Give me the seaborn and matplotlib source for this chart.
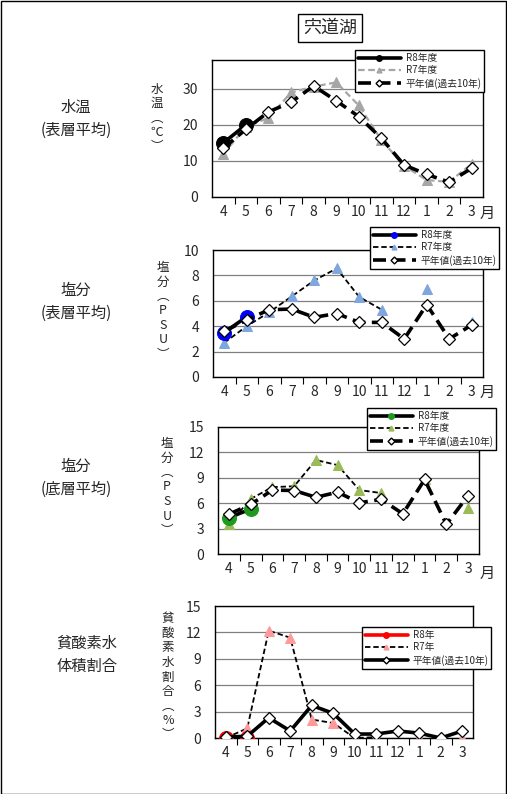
import numpy as np
import pandas as pd
import matplotlib
matplotlib.use("Agg")
import matplotlib.pyplot as plt
from matplotlib.lines import Line2D
from matplotlib.patches import Rectangle
import seaborn as sns

sns.set_theme(style="white")
plt.rcParams['font.family'] = ['Noto Sans CJK JP', 'DejaVu Sans']

months = ["4", "5", "6", "7", "8", "9", "10", "11", "12", "1", "2", "3"]

# 水温 (表層平均)
temp_r8 = [15.0, 20.0] + [np.nan] * 10
temp_r7 = [11.9, 19.5, 21.9, 29.0, 30.6, 31.8, 25.4, 15.8, 8.7, 4.7, 4.2, 9.2]
temp_avg = [13.5, 18.8, 23.6, 26.3, 30.8, 26.7, 22.3, 16.3, 8.9, 6.3, 4.1, 8.0]

# 塩分 (表層平均)
sal_s_r8 = [3.5, 4.75] + [np.nan] * 10
sal_s_r7 = [2.7, 4.0, 5.1, 6.35, 7.6, 8.55, 6.3, 5.3, np.nan, 6.9, np.nan, 4.35]
sal_s_avg = [3.6, 4.5, 5.3, 5.35, 4.7, 5.0, 4.3, 4.3, 3.0, 5.7, 3.0, 4.1]

# 塩分 (底層平均)
sal_b_r8 = [4.3, 5.3] + [np.nan] * 10
sal_b_r7 = [3.5, 6.5, 7.9, 8.0, 11.1, 10.5, 7.55, 7.2, np.nan, 8.9, np.nan, 5.4]
sal_b_avg = [4.7, 5.85, 7.55, 7.5, 6.7, 7.3, 6.05, 6.45, 4.75, 8.8, 3.5, 6.9]

# 貧酸素水体積割合 (%)
anox_r8 = [0.0, 0.0] + [np.nan] * 10
anox_r7 = [0.0, 1.1, 12.2, 11.4, 2.1, 1.7, 0.0, 0.1, np.nan, 0.0, np.nan, 0.0]
anox_avg = [0.1, 0.2, 2.3, 0.8, 3.7, 2.8, 0.45, 0.45, 0.8, 0.55, 0.0, 0.8]

W, H = 507, 794
fig = plt.figure(figsize=(W / 100, H / 100), dpi=100)
fig.patch.set_facecolor("white")


def add_ax(l, t, r, b):
    return fig.add_axes([l / W, 1 - b / H, (r - l) / W, (b - t) / H])


def draw(ax, vals, **kw):
    df = pd.DataFrame({"x": np.arange(12), "y": vals})
    df["seg"] = df["y"].isna().cumsum()
    df = df.dropna()
    sns.lineplot(data=df, x="x", y="y", units="seg", estimator=None,
                 legend=False, ax=ax, **kw)


def style_ax(ax, ymax, yticks):
    ax.set_xlim(-0.5, 11.5)
    ax.set_ylim(0, ymax)
    ax.set_yticks(yticks)
    ax.set_yticklabels([str(v) for v in yticks], fontsize=10)
    ax.set_xticks(range(12))
    ax.set_xticklabels(months, fontsize=10)
    ax.set_xticks(np.arange(0.5, 11.5, 1), minor=True)
    ax.tick_params(axis="x", which="major", length=0, pad=6)
    ax.tick_params(axis="x", which="minor", length=5, width=0.8,
                   direction="out", color="black", bottom=True)
    ax.tick_params(axis="y", length=0, pad=10)
    ax.grid(axis="y", color="#808080", lw=0.9)
    ax.grid(axis="x", visible=False)
    for s in ax.spines.values():
        s.set_color("black")
        s.set_linewidth(1.0)
    ax.set_xlabel("")
    ax.set_ylabel("")


avg_dash = (0, (3.6, 1.8))
r7_dash = (0, (3, 1.6))

panels = [
    dict(rect=(212, 60, 483, 197), ymax=38, yticks=[0, 10, 20, 30],
         r8=temp_r8, r7=temp_r7, avg=temp_avg,
         r8c="black", r8lc="black", r7c="#A6A6A6", r7lc="#A6A6A6", r7lw=1.6,
         avg_ls=avg_dash, labels=["R8年度", "R7年度", "平年値(過去10年)"],
         leg=(355, 50), ylab="水\n温\n︵\n℃\n︶", ylab_xy=(157, 118),
         title="水温\n(表層平均)", title_xy=(76, 119), month=(480, 213)),
    dict(rect=(213, 250, 483, 377), ymax=10, yticks=[0, 2, 4, 6, 8, 10],
         r8=sal_s_r8, r7=sal_s_r7, avg=sal_s_avg,
         r8c="#0000FF", r8lc="black", r7c="#7FA7DE", r7lc="black", r7lw=1.3,
         avg_ls=avg_dash, labels=["R8年度", "R7年度", "平年値(過去10年)"],
         leg=(370, 227), ylab="塩\n分\n︵\nP\nS\nU\n︶", ylab_xy=(163, 311),
         title="塩分\n(表層平均)", title_xy=(76, 302), month=(480, 392)),
    dict(rect=(218, 427, 479, 554), ymax=15, yticks=[0, 3, 6, 9, 12, 15],
         r8=sal_b_r8, r7=sal_b_r7, avg=sal_b_avg,
         r8c="#1E9A1E", r8lc="black", r7c="#9BBB59", r7lc="black", r7lw=1.3,
         avg_ls=avg_dash, labels=["R8年度", "R7年度", "平年値(過去10年)"],
         leg=(367, 408), ylab="塩\n分\n︵\nP\nS\nU\n︶", ylab_xy=(167, 487),
         title="塩分\n(底層平均)", title_xy=(76, 478), month=(480, 573)),
    dict(rect=(215, 606, 473, 738), ymax=15, yticks=[0, 3, 6, 9, 12, 15],
         r8=anox_r8, r7=anox_r7, avg=anox_avg,
         r8c="#FF0000", r8lc="#FF0000", r7c="#FF9A9A", r7lc="black", r7lw=1.3,
         avg_ls="-", labels=["R8年", "R7年", "平年値(過去10年)"],
         leg=(362, 627), ylab="貧\n酸\n素\n水\n割\n合\n︵\n%\n︶", ylab_xy=(168, 677),
         title="貧酸素水\n体積割合", title_xy=(87, 655), month=None),
]

for p in panels:
    ax = add_ax(*p["rect"])
    ax.set_facecolor("white")
    draw(ax, p["r7"], color=p["r7lc"], lw=p["r7lw"], linestyle=r7_dash,
         marker="^", markersize=7, markerfacecolor=p["r7c"],
         markeredgecolor=p["r7c"], zorder=3)
    draw(ax, p["r8"], color=p["r8lc"], lw=2.6, linestyle="-",
         marker="o", markersize=10, markerfacecolor=p["r8c"],
         markeredgecolor=p["r8c"], zorder=4)
    draw(ax, p["avg"], color="black", lw=2.6, linestyle=p["avg_ls"],
         marker="D", markersize=6, markerfacecolor="white",
         markeredgecolor="black", markeredgewidth=0.9, zorder=5)
    style_ax(ax, p["ymax"], p["yticks"])

    handles = [
        Line2D([], [], color=p["r8lc"], lw=2.6, marker="o", markersize=4,
               markerfacecolor=p["r8c"], markeredgecolor=p["r8c"]),
        Line2D([], [], color=p["r7lc"], lw=p["r7lw"], linestyle=r7_dash,
               marker="^", markersize=3.5, markerfacecolor=p["r7c"],
               markeredgecolor=p["r7c"]),
        Line2D([], [], color="black", lw=2.6, linestyle=p["avg_ls"],
               marker="D", markersize=3.5, markerfacecolor="white",
               markeredgecolor="black"),
    ]
    lx, ly = p["leg"]
    leg = fig.legend(handles, p["labels"], loc="upper left",
                     bbox_to_anchor=(lx / W, 1 - ly / H), borderaxespad=0,
                     fontsize=7, frameon=True, fancybox=False,
                     framealpha=1, edgecolor="black", handlelength=4.4,
                     handletextpad=0.5, labelspacing=0.25, borderpad=0.3)
    leg.get_frame().set_linewidth(1.0)
    leg.set_zorder(10)

    fig.text(p["ylab_xy"][0] / W, 1 - p["ylab_xy"][1] / H, p["ylab"],
             ha="center", va="center", fontsize=9, linespacing=1.15)
    fig.text(p["title_xy"][0] / W, 1 - p["title_xy"][1] / H, p["title"],
             ha="center", va="center", fontsize=11, linespacing=1.5)
    if p["month"]:
        fig.text(p["month"][0] / W, 1 - p["month"][1] / H, "月",
                 ha="left", va="center", fontsize=11)

# 見出し
fig.text(330 / W, 1 - 28 / H, "宍道湖", ha="center", va="center", fontsize=13,
         bbox=dict(boxstyle="square,pad=0.3", facecolor="white",
                   edgecolor="black", lw=1.0))

# 外枠
fig.add_artist(Rectangle((0.5 / W, 0.5 / H), (W - 1.5) / W, (H - 1.5) / H,
                         transform=fig.transFigure, fill=False,
                         edgecolor="black", lw=1.0))

fig.savefig("out.png", dpi=100, facecolor="white")
